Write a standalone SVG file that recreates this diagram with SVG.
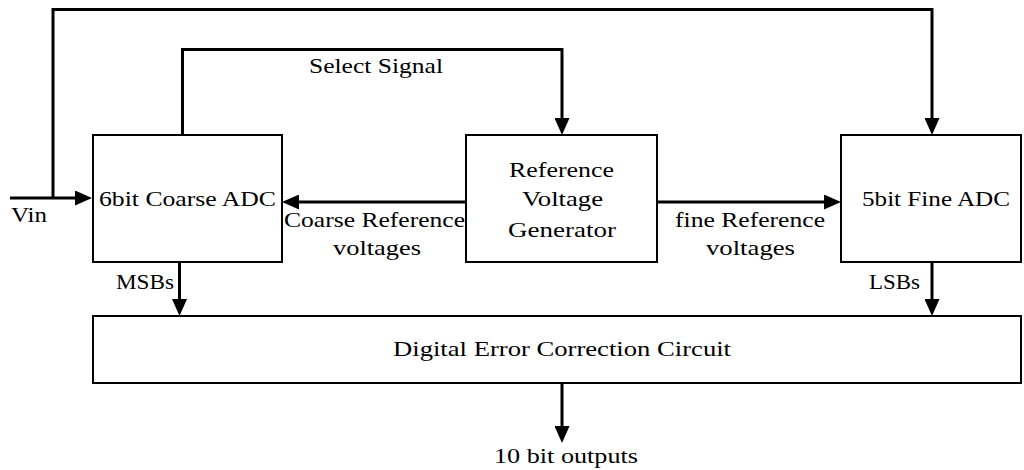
<svg xmlns="http://www.w3.org/2000/svg" width="1024" height="470" viewBox="0 0 1024 470">
  <style>
    .box { fill: #ffffff; stroke: #000000; stroke-width: 2; }
    .wire { fill: none; stroke: #000000; stroke-width: 3; stroke-linejoin: miter; }
    .lbl { font-family: 'Liberation Serif', 'DejaVu Serif', 'Times New Roman', serif; font-size: 22px; fill: #000000; }
  </style>
  <defs>
    <marker id="arrow" viewBox="0 0 17 15" refX="9" refY="7.5" markerWidth="17" markerHeight="15" markerUnits="userSpaceOnUse" orient="auto">
      <path d="M0,0 L17,7.5 L0,15 Z" fill="#000000"/>
    </marker>
  </defs>
  <rect width="1024" height="470" fill="#ffffff"/>

  <!-- signal paths -->
  <g id="connectors">
    <path class="wire" d="M10,198 H84" marker-end="url(#arrow)"/>
    <path class="wire" d="M53,198 V9.5 H932 V127" marker-end="url(#arrow)"/>
    <path class="wire" d="M182.5,135 V49.5 H562 V127" marker-end="url(#arrow)"/>
    <path class="wire" d="M466,202 H290" marker-end="url(#arrow)"/>
    <path class="wire" d="M657,202 H833" marker-end="url(#arrow)"/>
    <path class="wire" d="M179.5,262 V308" marker-end="url(#arrow)"/>
    <path class="wire" d="M932,262 V308" marker-end="url(#arrow)"/>
    <path class="wire" d="M562,383 V435" marker-end="url(#arrow)"/>
  </g>

  <!-- connector labels -->
  <g id="labels" font-family="Liberation Serif, DejaVu Serif, serif">
    <text class="lbl" x="309" y="73" textLength="134" lengthAdjust="spacingAndGlyphs">Select Signal</text>
    <text class="lbl" x="11" y="222" textLength="36" lengthAdjust="spacingAndGlyphs">Vin</text>
    <text class="lbl" x="284" y="227" textLength="181" lengthAdjust="spacingAndGlyphs">Coarse Reference</text>
    <text class="lbl" x="333" y="255" textLength="88" lengthAdjust="spacingAndGlyphs">voltages</text>
    <text class="lbl" x="675" y="227" textLength="150" lengthAdjust="spacingAndGlyphs">fine Reference</text>
    <text class="lbl" x="706" y="255" textLength="89" lengthAdjust="spacingAndGlyphs">voltages</text>
    <text class="lbl" x="116" y="289" textLength="58" lengthAdjust="spacingAndGlyphs">MSBs</text>
    <text class="lbl" x="869" y="289" textLength="51" lengthAdjust="spacingAndGlyphs">LSBs</text>
    <text class="lbl" x="494" y="463" textLength="144" lengthAdjust="spacingAndGlyphs">10 bit outputs</text>
  </g>

  <g id="coarse-adc">
    <rect class="box" x="93" y="135" width="189" height="127"/>
    <text class="lbl" x="99" y="206" textLength="177" lengthAdjust="spacingAndGlyphs">6bit Coarse ADC</text>
  </g>

  <g id="reference-generator">
    <rect class="box" x="466" y="135" width="191" height="127"/>
    <text class="lbl" x="509" y="177" textLength="105" lengthAdjust="spacingAndGlyphs">Reference</text>
    <text class="lbl" x="522" y="206" textLength="81" lengthAdjust="spacingAndGlyphs">Voltage</text>
    <text class="lbl" x="508" y="237" textLength="108" lengthAdjust="spacingAndGlyphs">Generator</text>
  </g>

  <g id="fine-adc">
    <rect class="box" x="841" y="135" width="180" height="127"/>
    <text class="lbl" x="862" y="206" textLength="148" lengthAdjust="spacingAndGlyphs">5bit Fine ADC</text>
  </g>

  <g id="error-correction">
    <rect class="box" x="93" y="316" width="928" height="67"/>
    <text class="lbl" x="393" y="356" textLength="338" lengthAdjust="spacingAndGlyphs">Digital Error Correction Circuit</text>
  </g>
</svg>
